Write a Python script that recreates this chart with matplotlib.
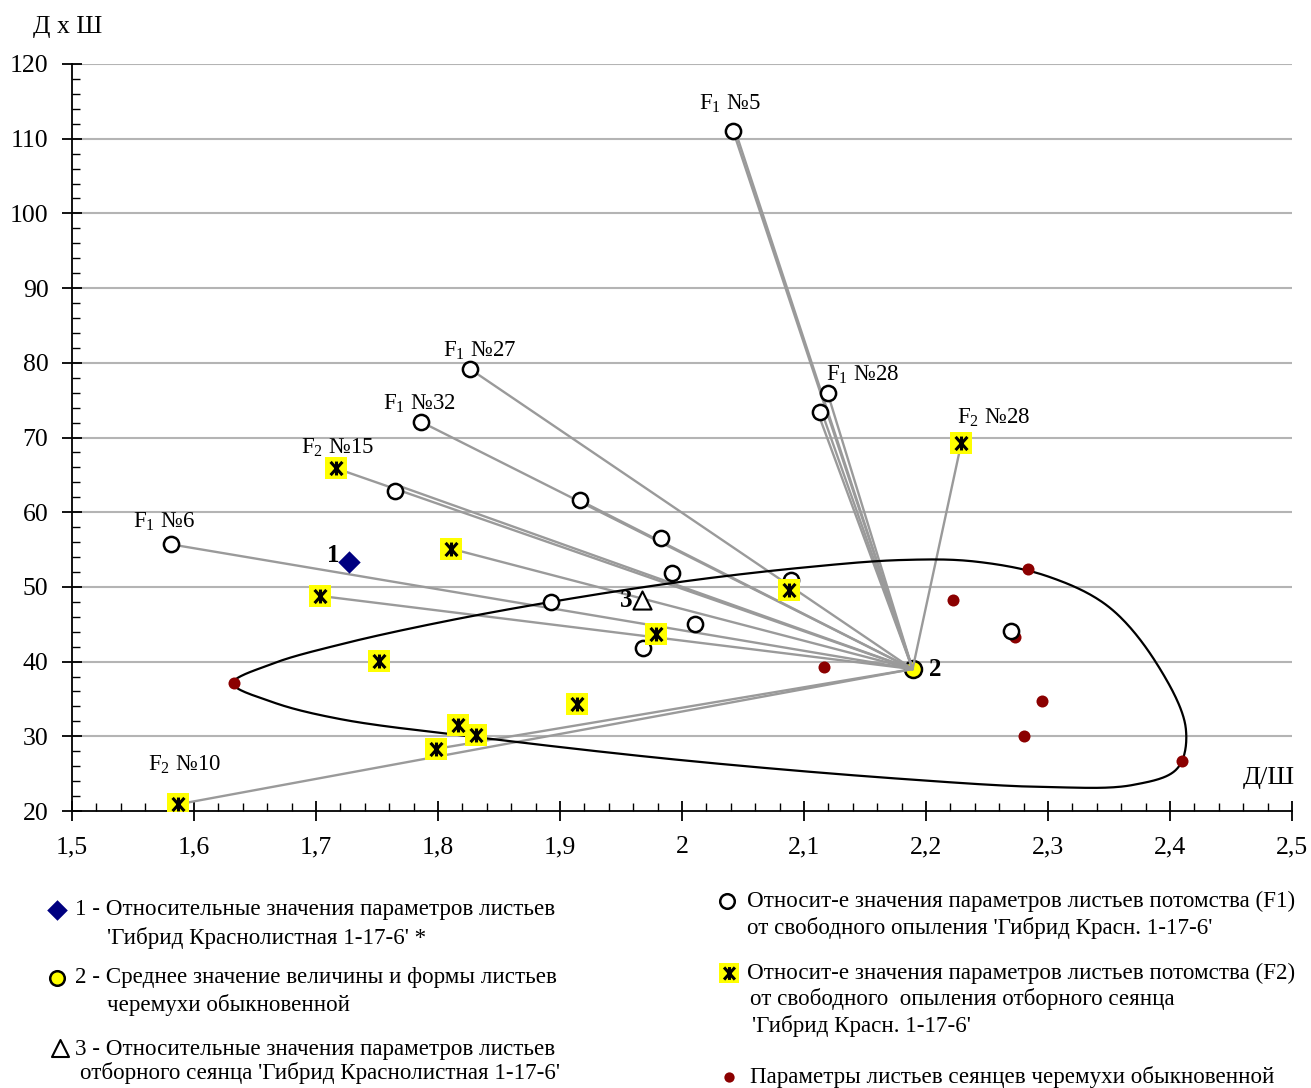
import numpy as np
import matplotlib
matplotlib.use("Agg")
import matplotlib.pyplot as plt
from matplotlib.markers import MarkerStyle
from matplotlib.path import Path
from matplotlib.ticker import FixedLocator, FixedFormatter, MultipleLocator

plt.rcParams['font.family'] = ['Liberation Serif', 'DejaVu Serif']
plt.rcParams['mathtext.fontset'] = 'custom'
plt.rcParams['mathtext.rm'] = 'Liberation Serif'
plt.rcParams['mathtext.it'] = 'Liberation Serif:italic'

# ---------------- data ----------------
# F1 offspring (open circles)
f1_x = [2.042, 2.120, 2.113, 1.826, 1.786, 1.765, 1.581, 1.916, 1.983, 1.992, 2.089, 1.893, 2.011, 1.968, 2.270]
f1_y = [111.0, 76.0, 73.4, 79.2, 72.1, 62.8, 55.7, 61.6, 56.5, 51.9, 50.9, 48.0, 45.0, 41.8, 44.1]

# F2 offspring (yellow asterisks)
f2_x = [1.716, 1.811, 1.703, 1.752, 1.979, 2.088, 2.229, 1.914, 1.816, 1.831, 1.798, 1.587]
f2_y = [65.9, 55.1, 48.8, 40.1, 43.7, 49.6, 69.3, 34.3, 31.5, 30.2, 28.3, 20.9]

# 1 - hybrid, 2 - mean of bird cherry, 3 - selected seedling
p1_x, p1_y = [1.727], [53.3]
p2_x, p2_y = [2.189], [39.0]
p3_x, p3_y = [1.967], [48.2]

# seedlings of common bird cherry (dark red dots)
red_x = [1.633, 2.116, 2.222, 2.284, 2.273, 2.295, 2.280, 2.410]
red_y = [37.1, 39.3, 48.2, 52.4, 43.3, 34.7, 30.0, 26.7]

# far ends of the grey connector lines (other end = point 2)
line_end_x = [2.042, 2.045, 2.120, 2.113, 2.117, 1.826, 1.786, 1.716, 1.765, 1.916,
              1.811, 1.581, 1.703, 2.229, 1.587, 1.798]
line_end_y = [111.0, 110.4, 75.6, 72.6, 72.3, 79.2, 72.1, 65.9, 63.7, 61.6,
              55.1, 55.7, 48.8, 69.3, 20.9, 28.3]

# outline of the bird-cherry variability area (traced points)
contour_x = [1.632, 1.664, 1.720, 1.800, 1.893, 2.000, 2.100, 2.180, 2.240, 2.300,
             2.350, 2.390, 2.413, 2.406, 2.370, 2.300, 2.180, 2.000, 1.831, 1.720, 1.664]
contour_y = [37.1, 39.7, 42.3, 45.2, 48.0, 50.7, 52.6, 53.6, 53.4, 51.4,
             47.3, 39.5, 31.0, 25.7, 23.5, 23.2, 24.3, 26.8, 29.9, 32.3, 34.6]

# named labels
lab_text = [r"F$_{1}$ №5", r"F$_{1}$ №28", r"F$_{1}$ №27", r"F$_{1}$ №32",
            r"F$_{2}$ №15", r"F$_{1}$ №6", r"F$_{2}$ №28", r"F$_{2}$ №10"]
lab_x = [2.042, 2.120, 1.826, 1.786, 1.716, 1.581, 2.229, 1.587]
lab_y = [111.0, 76.0, 79.2, 72.1, 65.9, 55.7, 69.3, 20.9]

x_ticks = [1.5, 1.6, 1.7, 1.8, 1.9, 2.0, 2.1, 2.2, 2.3, 2.4, 2.5]
x_ticklabels = ['1,5', '1,6', '1,7', '1,8', '1,9', '2', '2,1', '2,2', '2,3', '2,4', '2,5']
y_ticks = [20, 30, 40, 50, 60, 70, 80, 90, 100, 110, 120]

legend_left = [
    ("1 - Относительные значения параметров листьев", "'Гибрид Краснолистная 1-17-6' *"),
    ("2 - Среднее значение величины и формы листьев", "черемухи обыкновенной"),
    ("3 - Относительные значения параметров листьев", "отборного сеянца 'Гибрид Краснолистная 1-17-6'"),
]
legend_right = [
    ("Относит-е значения параметров листьев потомства (F1)", "от свободного опыления 'Гибрид Красн. 1-17-6'"),
    ("Относит-е значения параметров листьев потомства (F2)", "от свободного  опыления отборного сеянца",
     "'Гибрид Красн. 1-17-6'"),
    ("Параметры листьев сеянцев черемухи обыкновенной",),
]

# ---------------- figure ----------------
W, H = 1311, 1088
fig = plt.figure(figsize=(W / 100, H / 100), dpi=100)
L, R, B, T = 72, 1292, 811, 64
ax = fig.add_axes([L / W, 1 - B / H, (R - L) / W, (B - T) / H])
ax.set_xlim(1.5, 2.5)
ax.set_ylim(20, 120)

GRID = '#b4b4b4'
LINE = '#9a9a9a'
for yv in y_ticks[1:]:
    ax.axhline(yv, color=GRID, lw=1.5, zorder=1)

for sp in ['top', 'right']:
    ax.spines[sp].set_visible(False)
for sp in ['left', 'bottom']:
    ax.spines[sp].set_linewidth(1.3)
    ax.spines[sp].set_zorder(2)

ax.xaxis.set_major_locator(FixedLocator(x_ticks))
ax.xaxis.set_major_formatter(FixedFormatter(x_ticklabels))
ax.xaxis.set_minor_locator(MultipleLocator(0.02))
ax.yaxis.set_major_locator(FixedLocator(y_ticks))
ax.yaxis.set_minor_locator(MultipleLocator(2))
ax.tick_params(axis='both', which='major', direction='inout', length=14, width=1.3,
               labelsize=18.5)
ax.tick_params(axis='both', which='minor', direction='in', length=6, width=1.0)
ax.tick_params(axis='x', which='major', pad=11)
ax.tick_params(axis='y', which='major', pad=10)

# connector lines
for ex, ey in zip(line_end_x, line_end_y):
    ax.plot([p2_x[0], ex], [p2_y[0], ey], color=LINE, lw=1.7, zorder=3,
            solid_capstyle='round')

# smooth closed contour: centripetal Catmull-Rom in display-like space
sx, sy = (R - L) / 1.0, (B - T) / 100.0
P = np.column_stack([np.array(contour_x) * sx, np.array(contour_y) * sy])
n = len(P)
pts = []
for i in range(n):
    p0, p1, p2, p3 = P[(i - 1) % n], P[i], P[(i + 1) % n], P[(i + 2) % n]
    t0 = 0.0
    t1 = t0 + np.linalg.norm(p1 - p0) ** 0.5
    t2 = t1 + np.linalg.norm(p2 - p1) ** 0.5
    t3 = t2 + np.linalg.norm(p3 - p2) ** 0.5
    tt = np.linspace(t1, t2, 30, endpoint=False)[:, None]
    a1 = (t1 - tt) / (t1 - t0) * p0 + (tt - t0) / (t1 - t0) * p1
    a2 = (t2 - tt) / (t2 - t1) * p1 + (tt - t1) / (t2 - t1) * p2
    a3 = (t3 - tt) / (t3 - t2) * p2 + (tt - t2) / (t3 - t2) * p3
    b1 = (t2 - tt) / (t2 - t0) * a1 + (tt - t0) / (t2 - t0) * a2
    b2 = (t3 - tt) / (t3 - t1) * a2 + (tt - t1) / (t3 - t1) * a3
    c = (t2 - tt) / (t2 - t1) * b1 + (tt - t1) / (t2 - t1) * b2
    pts.append(c)
curve = np.vstack(pts + [P[:1]])
ax.plot(curve[:, 0] / sx, curve[:, 1] / sy, color='black', lw=1.6, zorder=4)

# asterisk marker: vertical bar + X
ast_path = Path([(0, -1), (0, 1), (-0.85, -0.95), (0.85, 0.95), (-0.85, 0.95), (0.85, -0.95)],
                [Path.MOVETO, Path.LINETO, Path.MOVETO, Path.LINETO, Path.MOVETO, Path.LINETO])
ast = MarkerStyle(ast_path)

# markers
ax.scatter(red_x, red_y, s=75, color='#8b0000', zorder=5, linewidths=0)
ax.scatter(f1_x, f1_y, s=120, facecolor='white', edgecolor='black', linewidths=1.8, zorder=6)
ax.scatter(f2_x, f2_y, s=230, marker='s', color='#ffff00', linewidths=0, zorder=6)
ax.scatter(f2_x, f2_y, s=100, marker=ast, color='black', linewidths=2.2, zorder=7)
ax.scatter(p1_x, p1_y, s=130, marker='D', color='#000080', linewidths=0, zorder=7)
ax.scatter(p2_x, p2_y, s=150, facecolor='#ffff00', edgecolor='black', linewidths=1.8, zorder=2.5)
ax.scatter(p3_x, p3_y, s=170, marker='^', facecolor='white', edgecolor='black', linewidths=1.5, zorder=7)

# point labels
offs = [(-3, 27), (34, 18), (10, 18), (-2, 18), (2, 20), (-7, 22), (32, 25), (6, 39)]
for txt, lx, ly, (dx, dy) in zip(lab_text, lab_x, lab_y, offs):
    ax.annotate(txt, (lx, ly), xytext=(dx * 0.72, dy * 0.72), textcoords='offset points',
                ha='center', va='center', fontsize=16.5, zorder=8)
ax.annotate('1', (p1_x[0], p1_y[0]), xytext=(-16 * 0.72, 7 * 0.72), textcoords='offset points',
            ha='center', va='center', fontsize=18, fontweight='bold', zorder=8)
ax.annotate('2', (p2_x[0], p2_y[0]), xytext=(23 * 0.72, 0), textcoords='offset points',
            ha='center', va='center', fontsize=18, fontweight='bold', zorder=8)
ax.annotate('3', (p3_x[0], p3_y[0]), xytext=(-16 * 0.72, 0), textcoords='offset points',
            ha='center', va='center', fontsize=18, fontweight='bold', zorder=8)

# axis titles
fig.text(33 / W, 1 - 27 / H, 'Д х Ш', fontsize=18.5, ha='left', va='center')
fig.text(1295 / W, 1 - 778 / H, 'Д/Ш', fontsize=19, ha='right', va='center')

# ---------------- legend (overlay in pixel coordinates) ----------------
lg = fig.add_axes([0, 0, 1, 1], zorder=10)
lg.set_xlim(0, W)
lg.set_ylim(H, 0)
lg.axis('off')
lg.patch.set_alpha(0)
LFS = 16.6

lg.scatter([57], [910], s=110, marker='D', color='#000080', linewidths=0)
lg.scatter([57], [978], s=110, facecolor='#ffff00', edgecolor='black', linewidths=1.8)
lg.scatter([60], [1048], s=150, marker='^', facecolor='white', edgecolor='black', linewidths=1.5)
left_pos = [((75, 910), (107, 938)), ((75, 978), (107, 1005)), ((75, 1050), (80, 1073))]
for lines, pos in zip(legend_left, left_pos):
    for s, (px, py) in zip(lines, pos):
        lg.text(px, py, s, fontsize=LFS, ha='left', va='center')

lg.scatter([727], [901], s=110, facecolor='white', edgecolor='black', linewidths=1.8)
lg.scatter([729], [973], s=200, marker='s', color='#ffff00', linewidths=0)
lg.scatter([729], [973], s=85, marker=ast, color='black', linewidths=2.2)
lg.scatter([729], [1077], s=55, color='#8b0000', linewidths=0)
right_pos = [((747, 901), (747, 928)), ((747, 973), (750, 999), (752, 1026)), ((750, 1077),)]
for lines, pos in zip(legend_right, right_pos):
    for s, (px, py) in zip(lines, pos):
        lg.text(px, py, s, fontsize=LFS, ha='left', va='center')

fig.savefig('out.png', dpi=100)
